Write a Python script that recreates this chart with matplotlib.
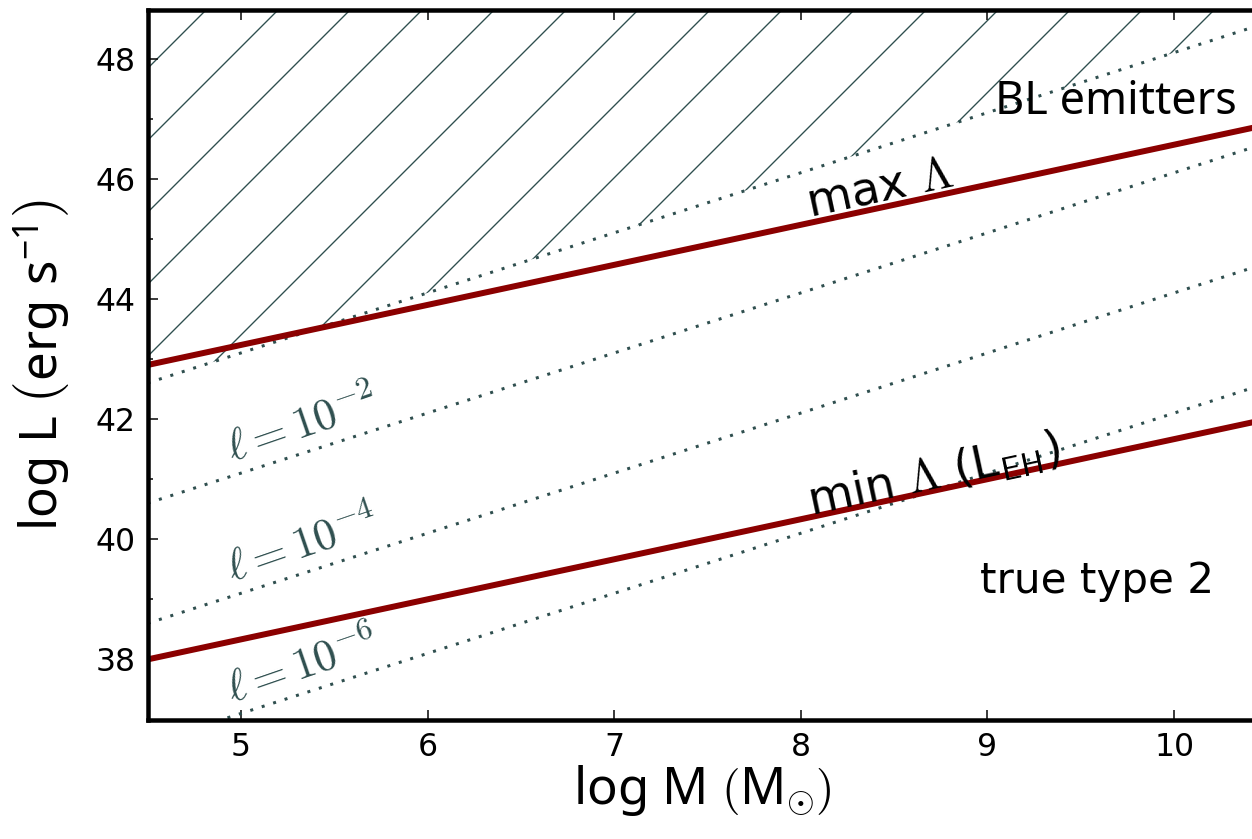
import matplotlib
matplotlib.use("Agg")
import matplotlib.pyplot as plt
from matplotlib.ticker import MultipleLocator

# values
log_m = [4.5, 10.5]
log_l_max_lambda = [42.9, 46.9]
log_l_min_lambda = [38.0, 42.0]
log_l_ell_0 = [42.6, 48.6]      # l = 1 (Eddington)
log_l_ell_2 = [40.6, 46.6]      # l = 1e-2
log_l_ell_4 = [38.6, 44.6]      # l = 1e-4
log_l_ell_6 = [36.6, 42.6]      # l = 1e-6

ell_labels = [r"$\ell = 10^{-2}$", r"$\ell = 10^{-4}$", r"$\ell = 10^{-6}$"]
ell_label_x = [5.33, 5.33, 5.33]
ell_label_y = [41.9, 39.9, 37.88]

SLATE = "#2f4f4f"
RED = "#8b0000"

DPI = 216
plt.rcParams["font.family"] = ["DejaVu Sans"]
plt.rcParams["hatch.linewidth"] = 0.45
# axis labels: sans text, thin computer-modern brackets
plt.rcParams["mathtext.fontset"] = "custom"
plt.rcParams["mathtext.rm"] = "cmr10"
plt.rcParams["mathtext.sf"] = "Noto Sans"
plt.rcParams["mathtext.it"] = "Noto Sans:italic"
plt.rcParams["mathtext.bf"] = "Noto Sans:bold"
plt.rcParams["mathtext.fallback"] = "cm"

fig = plt.figure(figsize=(1252 / DPI, 839 / DPI), dpi=DPI)
ax = fig.add_axes([147.5 / 1252, 0.1424, 1120 / 1252, 0.8451])

ax.fill_between(log_m, log_l_ell_0, 50, facecolor="none", edgecolor=SLATE,
                hatch="/", linewidth=0)
for ys in (log_l_ell_0, log_l_ell_2, log_l_ell_4, log_l_ell_6):
    ax.plot(log_m, ys, color=SLATE, linewidth=1.0, linestyle=(0, (1, 3)))
ax.plot(log_m, log_l_max_lambda, color=RED, linewidth=2.0)
ax.plot(log_m, log_l_min_lambda, color=RED, linewidth=2.0)

ax.set_xlim(4.5, 10.5)
ax.set_ylim(37, 48.8)
ax.xaxis.set_major_locator(MultipleLocator(1))
ax.yaxis.set_major_locator(MultipleLocator(2))
ax.yaxis.set_minor_locator(MultipleLocator(1))
ax.tick_params(which="both", direction="in", top=True, right=True, width=0.5,
               labelsize=10.5, pad=4)
ax.tick_params(which="major", length=3.4)
ax.tick_params(which="minor", length=1.7)
for sp in ax.spines.values():
    sp.set_linewidth(1.5)

ax.set_xlabel(r"log M $\left(\mathsf{M}_{\odot}\right)$", fontsize=17,
              family="Noto Sans", math_fontfamily="custom")
ax.set_ylabel(r"log L $\left(\mathsf{erg\ s^{-1}}\right)$", fontsize=17,
              family="Noto Sans", math_fontfamily="custom")
ax.xaxis.set_label_coords(0.495, -0.062)
ax.yaxis.set_label_coords(-0.067, 0.5)

for lab, x, y in zip(ell_labels, ell_label_x, ell_label_y):
    ax.text(x, y, lab, color=SLATE, fontsize=15, rotation=19,
            ha="center", va="center", rotation_mode="anchor",
            math_fontfamily="cm")

ax.text(8.42, 45.83, r"max $\Lambda$", fontsize=15.5, rotation=12.1,
        ha="center", va="center", rotation_mode="anchor", math_fontfamily="cm")
ax.text(8.71, 41.06, r"min $\Lambda$ (L$_{\mathsf{EH}}$)", fontsize=15.5,
        rotation=12.1, ha="center", va="center", rotation_mode="anchor",
        math_fontfamily="cm")
ax.text(9.69, 47.27, "BL emitters", fontsize=15, family="Noto Sans",
        ha="center", va="center")
ax.text(9.585, 39.31, "true type 2", fontsize=14, ha="center", va="center")

fig.savefig("out.png", dpi=DPI)
